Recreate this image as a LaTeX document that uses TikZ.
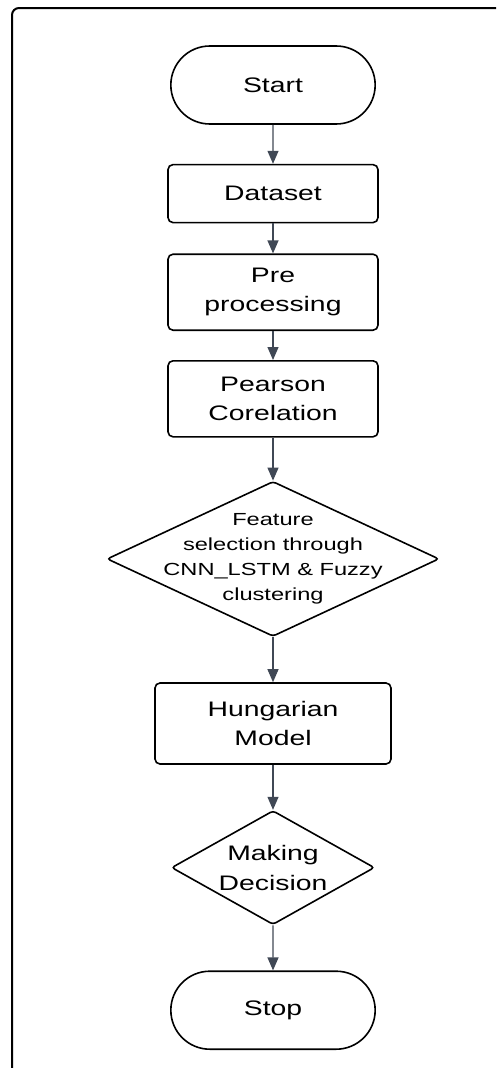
\documentclass[tikz,border=0pt]{standalone}
\usepackage{fontspec}
\setmainfont{Liberation Sans}[FakeStretch=1.35]
\usetikzlibrary{positioning, shapes, arrows.meta}

\definecolor{arrowgray}{RGB}{64,72,85}

\begin{document}
\begin{tikzpicture}[
x=1pt, y=1pt,
term/.style={rounded rectangle,
  draw, line width=1.6pt,
  minimum width=211pt, minimum height=78pt,
  font=\fontsize{21}{29}\selectfont,
},
procbox/.style={rectangle,
  rounded corners=5pt,
  draw, line width=1.6pt,
  minimum width=210pt,
  align=center,
  font=\fontsize{21}{29}\selectfont,
},
choice/.style={diamond,
  draw, line width=1.6pt,
  rounded corners=3pt,
  inner sep=0pt,
},
choicetext/.style={align=center,
  font=\fontsize{17.5}{25}\selectfont,
},
flow/.style={->, line width=1.2pt, arrowgray},
>={Triangle[width=11pt,length=13pt]}
]
\useasboundingbox (0,0) rectangle (496,-1068);

% outer frame, cut off at right and bottom
\draw[line width=2pt, rounded corners=7pt] (12,-1068) |- (496,-8);

\node[term] (start) at (273,-85)
    {Start};
\node[procbox, minimum height=58pt, below= 39pt of start] (dataset)
    {Dataset};
\node[procbox, minimum height=76pt, below= 30pt of dataset] (preproc)
    {Pre\\processing};
\node[procbox, minimum height=76pt, below= 29pt of preproc] (pearson)
    {Pearson\\Corelation};
\node[choice, minimum width=332pt, minimum height=155pt, below= 43pt of pearson,
    label={[choicetext]center:Feature\\selection through\\CNN\_LSTM \& Fuzzy\\clustering}] (featsel)
    {};
\node[procbox, minimum width=236pt, minimum height=81pt, below= 45pt of featsel] (hungarian)
    {Hungarian\\Model};
\node[choice, minimum width=203pt, minimum height=114pt, below= 45pt of hungarian,
    label={[align=center, font=\fontsize{21}{30}\selectfont]center:Making\\Decision}] (decision)
    {};
\node[term, below= 45pt of decision] (stop)
    {Stop};

\draw[flow] (start) -- (dataset);
\draw[flow] (dataset) -- (preproc);
\draw[flow] (preproc) -- (pearson);
\draw[flow] (pearson) -- (featsel);
\draw[flow] (featsel) -- (hungarian);
\draw[flow] (hungarian) -- (decision);
\draw[flow] (decision) -- (stop);
\end{tikzpicture}
\end{document}
